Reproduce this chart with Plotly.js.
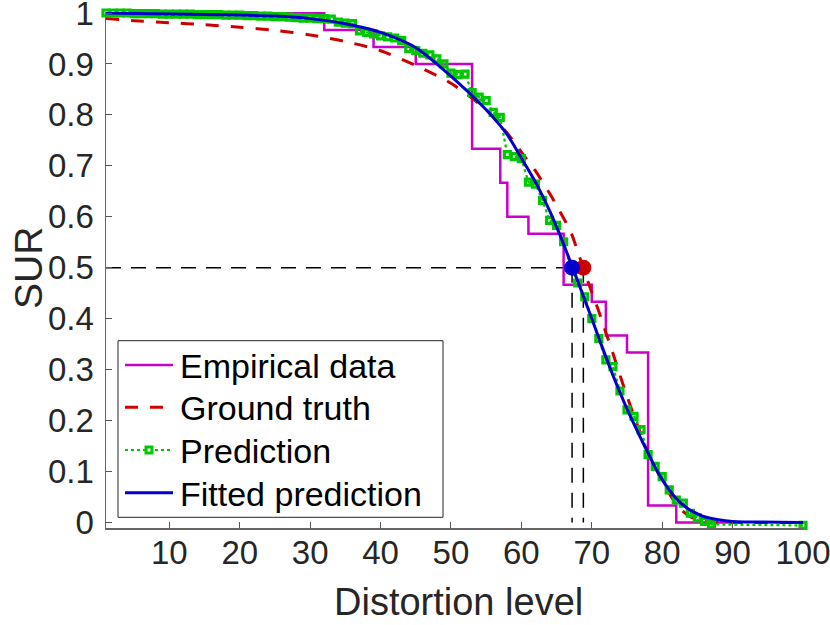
<!DOCTYPE html>
<html>
<head>
<meta charset="utf-8">
<script src="https://cdn.plot.ly/plotly-3.0.1.min.js"></script>
<style>html,body{margin:0;padding:0;background:#fff;}#chart{width:830px;height:625px;}</style>
</head>
<body>
<div id="chart"></div>
<script>
// ---- Data ----
const empX = [1, 32, 39, 45, 53, 57, 58, 61, 66, 70, 72, 75, 78, 82, 90];
const empY = [1, 29/30, 28/30, 27/30, 22/30, 20/30, 18/30, 17/30, 14/30, 13/30, 11/30, 10/30, 1/30, 0, 0];

const curveX = [1, 5, 10, 15, 20, 25, 30, 35, 40, 45, 50, 55, 57, 58, 59, 60, 62, 64, 65, 66, 67, 68, 69, 70,
                71, 72, 73, 74, 75, 76, 77, 78, 79, 80, 81, 82, 83, 84, 85, 86, 88, 90, 100];
const truthY = [0.989, 0.985, 0.981, 0.977, 0.972, 0.966, 0.957, 0.944, 0.926, 0.897, 0.862, 0.810, 0.780, 0.764, 0.746, 0.727,
                0.690, 0.646, 0.622, 0.597, 0.571, 0.532, 0.491, 0.452, 0.414, 0.373, 0.332, 0.289, 0.248, 0.209,
                0.172, 0.138, 0.108, 0.082, 0.057, 0.036, 0.021, 0.011, 0.005, 0.002, 0.0, 0.0, 0.0];
const fitY = [1.0, 0.999, 0.998, 0.997, 0.996, 0.994, 0.989, 0.979, 0.962, 0.932, 0.876, 0.810, 0.779, 0.761, 0.739, 0.715,
              0.668, 0.612, 0.580, 0.546, 0.510, 0.474, 0.437, 0.400, 0.362, 0.325, 0.289, 0.255, 0.223, 0.193,
              0.164, 0.136, 0.108, 0.084, 0.064, 0.047, 0.034, 0.024, 0.017, 0.011, 0.005, 0.002, 0.0];

const predX = [1,2,3,4,5,6,7,8,9,10,11,12,13,14,15,16,17,18,19,20,21,22,23,24,25,26,27,28,29,30,
               31,32,33,34,35,36,37,38,39,40,41,42,43,44,45,46,47,48,49,50,51,52,53,54,55,56,57,58,59,60,
               61,62,63,64,65,66,67,68,69,70,71,72,73,74,75,76,77,78,79,80,81,82,83,84,85,86,87,100];
const predY = [1.0,1.0,1.0,1.0,0.999,0.999,0.999,0.999,0.998,0.998,
               0.998,0.998,0.998,0.997,0.997,0.997,0.997,0.996,0.996,0.996,
               0.995,0.995,0.994,0.994,0.993,0.993,0.992,0.991,0.990,0.990,
               0.989,0.989,0.988,0.982,0.980,0.979,0.965,0.962,0.959,0.955,
               0.953,0.951,0.946,0.930,0.926,0.921,0.918,0.910,0.900,0.882,
               0.879,0.880,0.844,0.835,0.828,0.805,0.795,0.722,0.718,0.714,
               0.668,0.664,0.632,0.593,0.583,0.551,0.500,0.470,0.443,0.400,
               0.361,0.319,0.306,0.258,0.221,0.208,0.182,0.133,0.110,0.090,
               0.064,0.044,0.038,0.018,0.009,0.002,-0.004,-0.006];

const level = 0.5;
const fitCross = 67.2;
const truthCross = 68.8;

const xTicks = [10, 20, 30, 40, 50, 60, 70, 80, 90, 100];
const yTicks = [0, 0.1, 0.2, 0.3, 0.4, 0.5, 0.6, 0.7, 0.8, 0.9, 1];
const yTickText = ['0', '0.1', '0.2', '0.3', '0.4', '0.5', '0.6', '0.7', '0.8', '0.9', '1'];

const legendNames = ['Empirical data', 'Ground truth', 'Prediction', 'Fitted prediction'];
const xTitle = 'Distortion level';
const yTitle = 'SUR';

// ---- Styles ----
const cMag = '#cc00cc', cRed = '#cc0000', cGreen = '#00c800', cBlue = '#0000cc';
const empLine = {color: cMag, width: 2.5};
const truthLine = {color: cRed, width: 3, dash: '13px,12px'};
const predLine = {color: cGreen, width: 2.2, dash: 'dot'};
const fitLine = {color: cBlue, width: 3};
const dashBlack = {color: '#000000', width: 1.5, dash: '15px,10px'};

// ---- Traces ----
const traces = [
  {x: [1, fitCross], y: [level, level], mode: 'lines', line: dashBlack, showlegend: false, hoverinfo: 'skip', cliponaxis: false},
  {x: [fitCross, fitCross], y: [level, 0], mode: 'lines', line: dashBlack, showlegend: false, hoverinfo: 'skip', cliponaxis: false},
  {x: [truthCross, truthCross], y: [level, 0], mode: 'lines', line: dashBlack, showlegend: false, hoverinfo: 'skip', cliponaxis: false},
  {x: empX, y: empY, name: legendNames[0], mode: 'lines', line: Object.assign({shape: 'hv'}, empLine), cliponaxis: false},
  {x: curveX, y: truthY, name: legendNames[1], mode: 'lines', line: Object.assign({shape: 'spline', smoothing: 0.8}, truthLine), cliponaxis: false},
  {x: predX, y: predY, name: legendNames[2], mode: 'lines+markers', line: predLine,
   marker: {symbol: 'square-open', size: 6, color: cGreen, line: {width: 3.2, color: cGreen}}, cliponaxis: false},
  {x: curveX, y: fitY, name: legendNames[3], mode: 'lines', line: Object.assign({shape: 'spline', smoothing: 0.8}, fitLine), cliponaxis: false},
  {x: [truthCross], y: [level], mode: 'markers', marker: {color: cRed, size: 16}, showlegend: false, cliponaxis: false},
  {x: [fitCross], y: [level], mode: 'markers', marker: {color: cBlue, size: 16}, showlegend: false, cliponaxis: false}
];

// ---- Layout (pixel helpers for legend/titles) ----
const M = {l: 106, r: 27, t: 12, b: 97};
const W = 830, H = 625;
const pw = W - M.l - M.r, ph = H - M.t - M.b;
const px2x = p => (p - M.l) / pw;
const py2y = p => (H - M.b - p) / ph;

const font = 'Liberation Sans, Arial, sans-serif';
const txt = '#262626';

const legBox = {x0: 118, x1: 443, y0: 340.7, y1: 517.3};
const legRows = [365, 407.3, 450, 492.7];
const legLine = {x0: 125, x1: 173};
const legStyles = [empLine, truthLine, predLine, fitLine];

const shapes = [{
  type: 'rect', xref: 'paper', yref: 'paper', layer: 'above',
  x0: px2x(legBox.x0), x1: px2x(legBox.x1), y0: py2y(legBox.y1), y1: py2y(legBox.y0),
  line: {color: '#262626', width: 1}, fillcolor: '#ffffff'
}];
legRows.forEach((r, i) => {
  shapes.push({type: 'line', xref: 'paper', yref: 'paper', layer: 'above',
    x0: px2x(legLine.x0), x1: px2x(legLine.x1), y0: py2y(r), y1: py2y(r), line: legStyles[i]});
});
const mc = (legLine.x0 + legLine.x1) / 2;
shapes.push({type: 'rect', xref: 'paper', yref: 'paper', layer: 'above',
  x0: px2x(mc - 3), x1: px2x(mc + 3), y0: py2y(legRows[2] + 3), y1: py2y(legRows[2] - 3),
  line: {color: cGreen, width: 3}, fillcolor: '#ffffff'});

const annotations = legendNames.map((n, i) => ({
  text: n, xref: 'paper', yref: 'paper', x: px2x(178), y: py2y(legRows[i] + 1),
  xanchor: 'left', yanchor: 'middle', showarrow: false,
  font: {family: font, size: 34, color: '#000000'}
}));
annotations.push({text: xTitle, xref: 'paper', yref: 'paper', x: px2x(458.5), y: py2y(625),
  xanchor: 'center', yanchor: 'bottom', showarrow: false, font: {family: font, size: 38, color: txt}});
annotations.push({text: yTitle, xref: 'paper', yref: 'paper', x: px2x(28), y: py2y(268),
  xanchor: 'center', yanchor: 'middle', textangle: -90, showarrow: false, font: {family: font, size: 39, color: txt}});

const layout = {
  width: W, height: H, margin: M,
  paper_bgcolor: '#ffffff', plot_bgcolor: '#ffffff',
  font: {family: font, color: txt},
  showlegend: false,
  shapes: shapes, annotations: annotations,
  xaxis: {
    range: [1, 100], tickvals: xTicks, ticks: 'inside', ticklen: 6, tickwidth: 1, tickcolor: '#555555',
    showline: true, linecolor: '#666666', linewidth: 1.5, showgrid: false, zeroline: false, mirror: false,
    tickfont: {family: font, size: 33, color: txt}, ticklabelstandoff: -5, ticklabeloverflow: 'allow'
  },
  yaxis: {
    range: [-0.011, 1.002], tickvals: yTicks, ticktext: yTickText, ticks: 'inside', ticklen: 6, tickwidth: 1, tickcolor: '#555555',
    showline: true, linecolor: '#666666', linewidth: 1.5, showgrid: false, zeroline: false, mirror: false,
    tickfont: {family: font, size: 33, color: txt}, ticklabelstandoff: 4, ticklabeloverflow: 'allow'
  }
};

Plotly.newPlot('chart', traces, layout, {displayModeBar: false, staticPlot: true});
</script>
</body>
</html>
